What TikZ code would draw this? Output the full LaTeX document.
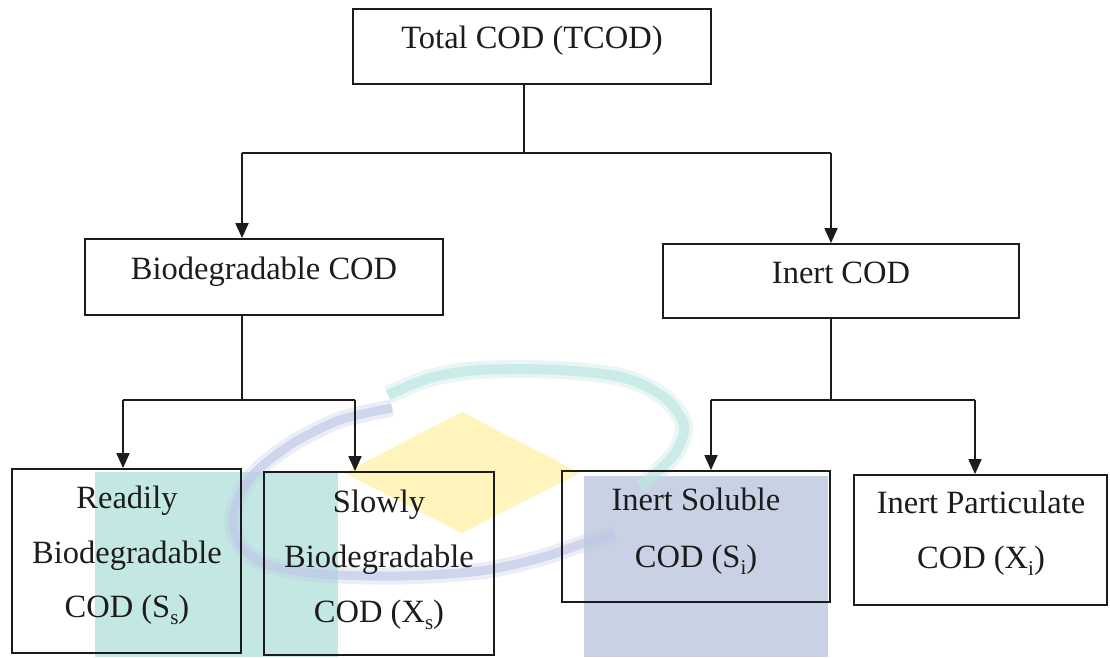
\documentclass[tikz,border=0pt]{standalone}
\usepackage{fontspec}
\setmainfont{Liberation Serif}
\usetikzlibrary{arrows.meta}

\definecolor{ink}{HTML}{1C1C1C}
\definecolor{wmteal}{HTML}{C3E8E4}
\definecolor{wmblue}{HTML}{C9D1E4}
\definecolor{wmyellow}{HTML}{FFF4BC}
\definecolor{wmring}{HTML}{BFC8E6}
\definecolor{wmarc}{HTML}{BFE6E3}

\newcommand{\lowidx}[1]{\raisebox{-0.22em}{\fontsize{21}{21}\selectfont #1}}

\tikzset{
  box/.style={draw=ink, line width=1.8pt, rectangle, inner sep=0pt},
  txt/.style={anchor=base, inner sep=0pt, text=ink,
              font=\fontsize{32.5}{39}\selectfont},
  link/.style={draw=ink, line width=1.8pt},
  arr/.style={link, -{Triangle[length=15pt,width=13pt]}}
}

\def\tealarc{plot[smooth] coordinates {(388,395) (430,378) (480,370) (560,370)
  (625,378) (665,398) (684,425) (676,452) (655,474) (640,486)}}
\def\bluearc{plot[smooth] coordinates {(392,408) (340,420) (290,445) (250,478)
  (233,515) (240,545) (268,565) (320,574) (400,576) (480,571) (540,558)
  (585,543) (615,535)}}

\begin{document}
\begin{tikzpicture}[x=1pt,y=-1pt]
\useasboundingbox (0,0) rectangle (1110,657);

% background emblem
\fill[wmyellow] (462,412) -- (580,473) -- (462,533) -- (344,473) -- cycle;
\fill[wmteal] (95,472) rectangle (338,657);
\fill[wmblue] (584,476) rectangle (828,657);
% soft-edged rings: a wide faint stroke under a narrower denser one
\draw[wmarc, line width=18pt, opacity=0.35] \tealarc;
\draw[wmarc, line width=10pt, opacity=0.7] \tealarc;
\draw[wmring, line width=17pt, opacity=0.3] \bluearc;
\draw[wmring, line width=9pt, opacity=0.65] \bluearc;

% boxes
\node[box, minimum width=358pt, minimum height=75pt]  (total) at (532,46.5) {};
\node[box, minimum width=358pt, minimum height=76pt]  (bio)   at (264,277)  {};
\node[box, minimum width=356pt, minimum height=74pt]  (inert) at (841,281)  {};
\node[box, minimum width=229pt, minimum height=184pt] (rbio)  at (126.5,561) {};
\node[box, minimum width=230pt, minimum height=183pt] (sbio)  at (379,563.5) {};
\node[box, minimum width=268pt, minimum height=131pt] (isol)  at (696,536.5) {};
\node[box, minimum width=253pt, minimum height=130pt] (ipart) at (980.5,540) {};

% labels
\node[txt] (totalT) at (532,48)  {Total COD (TCOD)};
\node[txt] (bioT)   at (264,279) {Biodegradable COD};
\node[txt] (inertT) at (841,283) {Inert COD};

\node[txt] (rbio1) at (127,508) {Readily};
\node[txt] (rbio2) at (127,563) {Biodegradable};
\node[txt] (rbio3) at (127,617) {COD (S\lowidx{s})};

\node[txt] (sbio1) at (379,512) {Slowly};
\node[txt] (sbio2) at (379,567) {Biodegradable};
\node[txt] (sbio3) at (379,622) {COD (X\lowidx{s})};

\node[txt] (isol1) at (696,510) {Inert Soluble};
\node[txt] (isol2) at (696,567) {COD (S\lowidx{i})};

\node[txt] (ipart1) at (981,513) {Inert Particulate};
\node[txt] (ipart2) at (981,568) {COD (X\lowidx{i})};

% junction points
\coordinate (j0)  at (524,153);
\coordinate (dB)  at (242,153);
\coordinate (dI)  at (831,153);
\coordinate (jB)  at (242,400);
\coordinate (jI)  at (831,400);
\coordinate (dR)  at (123,400);
\coordinate (dS)  at (355,400);
\coordinate (dIS) at (711,400);
\coordinate (dIP) at (975,400);

% connectors
\draw[link] (total.south -| j0) -- (j0);
\draw[link] (dB) -- (dI);
\draw[arr]  (dB) -- (dB |- bio.north);
\draw[arr]  (dI) -- (dI |- inert.north);

\draw[link] (bio.south -| jB) -- (jB);
\draw[link] (dR) -- (dS);
\draw[arr]  (dR) -- (dR |- rbio.north);
\draw[arr]  (dS) -- (dS |- sbio.north);

\draw[link] (inert.south -| jI) -- (jI);
\draw[link] (dIS) -- (dIP);
\draw[arr]  (dIS) -- (dIS |- isol.north);
\draw[arr]  (dIP) -- (dIP |- ipart.north);
\end{tikzpicture}
\end{document}
